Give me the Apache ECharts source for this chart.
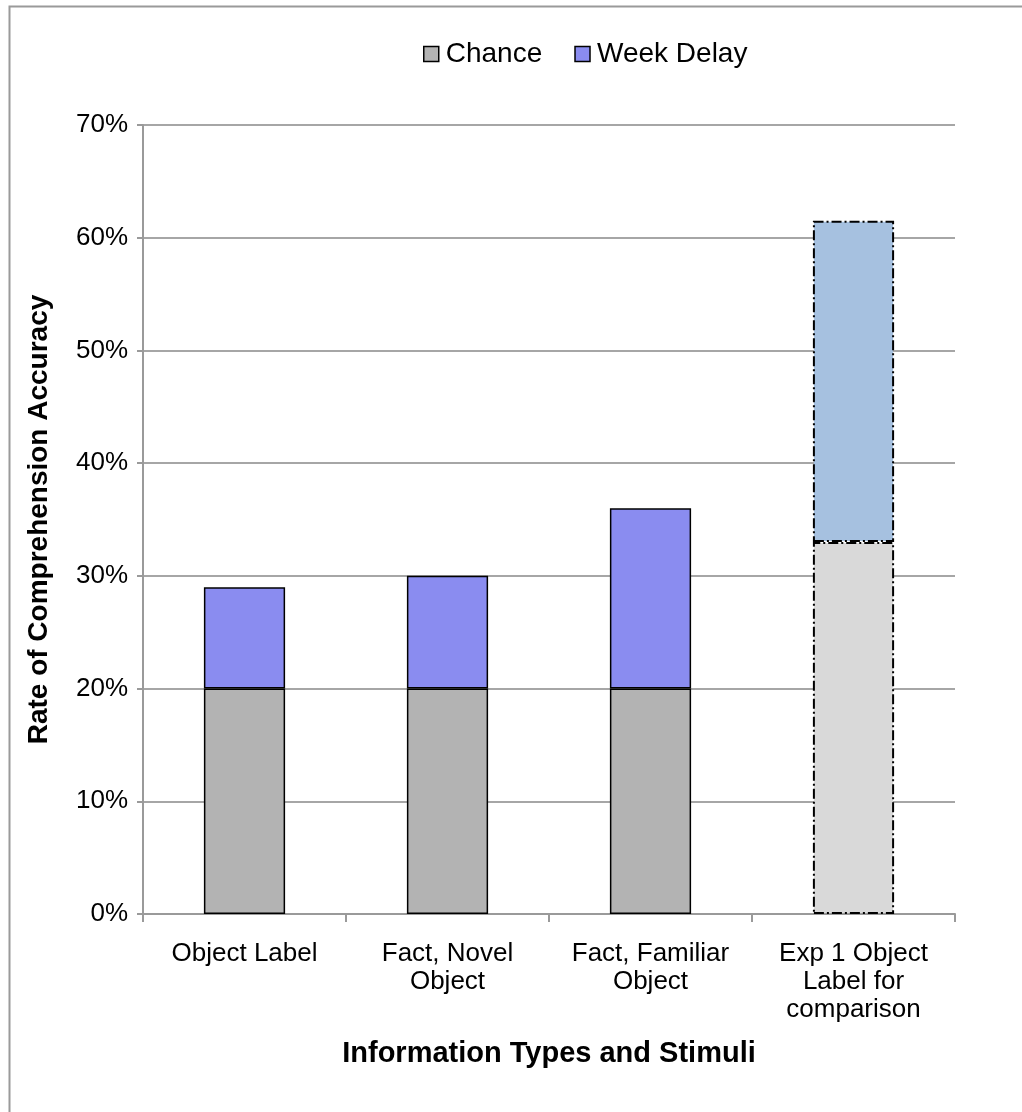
<!DOCTYPE html>
<html>
<head>
    <meta charset="utf-8">
    <script src="https://cdn.jsdelivr.net/npm/echarts@6/dist/echarts.min.js"></script>
    <style>
        html, body { margin: 0; padding: 0; background: #fff; }
        #main { width: 1022px; height: 1112px; }
    </style>
</head>
<body>
<div id="main"></div>
<script>
    var categories = ['Object Label', 'Fact, Novel\nObject', 'Fact, Familiar\nObject', 'Exp 1 Object\nLabel for\ncomparison'];
    var chanceValues = [20, 20, 20, 33];
    var weekDelayValues = [9, 10, 16, 28.5];
    var yTicks = [0, 10, 20, 30, 40, 50, 60, 70];

    var font = 'Liberation Sans, Arial, sans-serif';
    var dashDot = [10, 3, 2, 3];

    // the last bar (comparison) is paler and drawn with a dash-dot outline
    function buildData(values, normalColor, paleColor) {
        return values.map(function (v, i) {
            if (i === values.length - 1) {
                return { value: v, itemStyle: { color: paleColor, borderColor: '#000', borderWidth: 2, borderType: dashDot } };
            }
            return { value: v, itemStyle: { color: normalColor, borderColor: '#000', borderWidth: 1.5 } };
        });
    }

    var chart = echarts.init(document.getElementById('main'));
    chart.setOption({
        animation: false,
        backgroundColor: '#fff',
        graphic: [{
            type: 'rect',
            shape: { x: 9.5, y: 6.5, width: 1100, height: 1200 },
            style: { fill: 'none', stroke: '#9a9a9a', lineWidth: 2 },
            silent: true
        }],
        legend: {
            top: 35,
            left: 418,
            itemWidth: 15,
            itemHeight: 15,
            itemGap: 32,
            textStyle: { fontFamily: font, fontSize: 28, color: '#000', padding: [0, 0, 0, 2] },
            data: [
                { name: 'Chance', icon: 'rect', itemStyle: { color: '#b3b3b3', borderColor: '#000', borderWidth: 1.5 } },
                { name: 'Week Delay', icon: 'rect', itemStyle: { color: '#8a8cf0', borderColor: '#000', borderWidth: 1.5 } }
            ]
        },
        grid: { left: 143, right: 67, top: 125, bottom: 198 },
        xAxis: {
            type: 'category',
            data: categories,
            name: 'Information Types and Stimuli',
            nameLocation: 'middle',
            nameGap: 125,
            nameTextStyle: { fontFamily: font, fontSize: 29, fontWeight: 'bold', color: '#000' },
            axisLine: { lineStyle: { color: '#9a9a9a', width: 2 } },
            axisTick: { show: true, interval: 0, length: 8, lineStyle: { color: '#9a9a9a', width: 2 } },
            axisLabel: { interval: 0, fontFamily: font, fontSize: 26, color: '#000', lineHeight: 28, margin: 26 }
        },
        yAxis: {
            type: 'value',
            min: yTicks[0],
            max: yTicks[yTicks.length - 1],
            interval: 10,
            name: 'Rate of Comprehension Accuracy',
            nameLocation: 'middle',
            nameGap: 90,
            nameTextStyle: { fontFamily: font, fontSize: 28, fontWeight: 'bold', color: '#000' },
            axisLine: { show: true, lineStyle: { color: '#9a9a9a', width: 2 } },
            axisTick: { show: true, length: 6, lineStyle: { color: '#9a9a9a', width: 2 } },
            axisLabel: { fontFamily: font, fontSize: 26, color: '#000', margin: 15, formatter: '{value}%' },
            splitLine: { lineStyle: { color: '#a6a6a6', width: 2 } }
        },
        series: [{
            name: 'Chance',
            type: 'bar',
            stack: 'total',
            barWidth: '40%',
            data: buildData(chanceValues, '#b3b3b3', '#d9d9d9')
        }, {
            name: 'Week Delay',
            type: 'bar',
            stack: 'total',
            barWidth: '40%',
            data: buildData(weekDelayValues, '#8a8cf0', '#a6c1e0')
        }]
    });
</script>
</body>
</html>
